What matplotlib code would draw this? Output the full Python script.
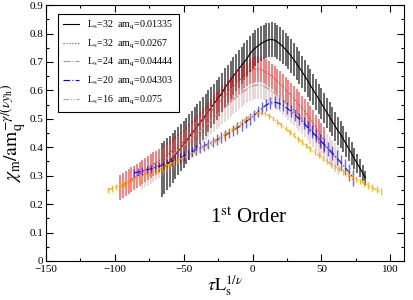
import numpy as np
import matplotlib
matplotlib.use('Agg')
import matplotlib.pyplot as plt
from matplotlib.ticker import MultipleLocator

plt.rcParams['font.family'] = ['Liberation Serif', 'DejaVu Serif']
plt.rcParams['mathtext.fontset'] = 'stix'

# L_s=32 am_q=0.01335
x_black = np.arange(-66, 83, 2)
y_black = [0.320, 0.330, 0.340, 0.351, 0.362, 0.374, 0.386, 0.398, 0.410,
           0.423, 0.436, 0.449, 0.462, 0.475, 0.488, 0.501, 0.514, 0.527,
           0.540, 0.553, 0.566, 0.579, 0.592, 0.610, 0.623, 0.637, 0.650,
           0.663, 0.676, 0.688, 0.700, 0.712, 0.728, 0.740, 0.749, 0.757,
           0.764, 0.770, 0.775, 0.778, 0.779, 0.777, 0.771, 0.763, 0.754,
           0.744, 0.733, 0.721, 0.708, 0.694, 0.680, 0.665, 0.650, 0.634,
           0.618, 0.602, 0.586, 0.570, 0.554, 0.538, 0.522, 0.506, 0.490,
           0.474, 0.458, 0.445, 0.428, 0.411, 0.394, 0.377, 0.360, 0.343,
           0.326, 0.309, 0.292]
e_black = [0.095, 0.093, 0.092, 0.090, 0.088, 0.087, 0.085, 0.083, 0.082,
           0.081, 0.080, 0.079, 0.078, 0.077, 0.076, 0.075, 0.074, 0.073,
           0.072, 0.071, 0.070,
           0.069, 0.069, 0.068, 0.068, 0.067, 0.067, 0.066, 0.066, 0.065,
           0.065, 0.064, 0.064, 0.063,
           0.063, 0.062, 0.062, 0.061, 0.061, 0.060, 0.060, 0.060, 0.060,
           0.060, 0.060, 0.059, 0.059, 0.059, 0.058, 0.058, 0.058, 0.057,
           0.057, 0.056,
           0.056, 0.055, 0.055, 0.054, 0.054, 0.053, 0.053, 0.052, 0.052,
           0.051, 0.050, 0.048, 0.046, 0.044, 0.042, 0.040, 0.037, 0.034,
           0.031, 0.028, 0.025]

# L_s=32 am_q=0.0267
x_red = np.arange(-96, 53, 2)
y_red = [0.258, 0.265, 0.272, 0.279, 0.286, 0.293, 0.299, 0.306, 0.313,
         0.320, 0.327, 0.333, 0.340, 0.346, 0.353, 0.360, 0.367, 0.374,
         0.381, 0.389, 0.396, 0.404, 0.412, 0.420,
         0.430, 0.440, 0.450, 0.461, 0.472, 0.483, 0.494, 0.505, 0.516,
         0.527, 0.538, 0.549, 0.560, 0.571, 0.582, 0.593, 0.604, 0.614,
         0.624, 0.634, 0.643, 0.652, 0.660, 0.667, 0.672,
         0.675, 0.676, 0.674, 0.670, 0.664, 0.657, 0.649, 0.641, 0.632,
         0.623, 0.613, 0.603, 0.593, 0.582, 0.571, 0.560, 0.549, 0.537,
         0.525, 0.513, 0.500, 0.485, 0.470, 0.455, 0.440, 0.425]
e_red = [0.043, 0.043, 0.043, 0.043, 0.043, 0.042, 0.042, 0.042, 0.042,
         0.042, 0.042, 0.042, 0.042, 0.042, 0.042, 0.042, 0.042, 0.042,
         0.042, 0.042, 0.042, 0.042, 0.042, 0.042,
         0.043, 0.043, 0.043, 0.043, 0.043, 0.043, 0.043, 0.043, 0.043,
         0.043, 0.044, 0.044, 0.044, 0.044, 0.044, 0.044, 0.044, 0.044,
         0.044, 0.045, 0.045, 0.045, 0.045, 0.045, 0.045,
         0.045, 0.045, 0.045, 0.045, 0.045, 0.045, 0.045, 0.045, 0.045,
         0.045, 0.045, 0.045, 0.045, 0.045, 0.045, 0.045, 0.045, 0.045,
         0.045, 0.045, 0.045, 0.045, 0.045, 0.045, 0.045, 0.045]

# L_s=24 am_q=0.04444
x_brown = np.arange(-80, 63, 2)
y_brown = [0.300, 0.307, 0.313, 0.320, 0.326, 0.333, 0.340, 0.346, 0.353,
           0.360, 0.367, 0.374, 0.381, 0.389, 0.396, 0.404,
           0.413, 0.422, 0.431, 0.440, 0.449, 0.458, 0.467, 0.476, 0.486,
           0.495, 0.504, 0.513, 0.522, 0.531, 0.540, 0.549, 0.558, 0.567,
           0.575, 0.583, 0.591, 0.598, 0.605, 0.611, 0.615,
           0.618, 0.619, 0.618, 0.615, 0.610, 0.604, 0.597, 0.590, 0.582,
           0.574, 0.565, 0.556, 0.547, 0.537, 0.527, 0.517, 0.507, 0.496,
           0.485, 0.474, 0.463, 0.452, 0.441, 0.430, 0.419, 0.408, 0.397,
           0.386, 0.375, 0.364, 0.353]
e_brown = [0.048, 0.048, 0.048, 0.048, 0.048, 0.048, 0.049, 0.049, 0.049,
           0.049, 0.049, 0.049, 0.049, 0.049, 0.049, 0.050,
           0.050, 0.050, 0.050, 0.050, 0.050, 0.050, 0.050, 0.050, 0.050,
           0.050, 0.050, 0.050, 0.050, 0.050, 0.050, 0.050, 0.050, 0.050,
           0.050, 0.050, 0.050, 0.050, 0.050, 0.050, 0.050,
           0.050, 0.050, 0.050, 0.050, 0.050, 0.050, 0.050, 0.050, 0.050,
           0.050, 0.050, 0.050, 0.050, 0.050, 0.050, 0.050, 0.050, 0.050,
           0.050, 0.050, 0.050, 0.050, 0.050, 0.050, 0.050, 0.050, 0.050,
           0.050, 0.050, 0.050, 0.050]

# L_s=20 am_q=0.04303
x_blue = np.arange(-86, 74, 3)
y_blue = [0.310, 0.313, 0.316, 0.320, 0.324, 0.328, 0.333, 0.338, 0.344,
          0.350, 0.356, 0.363, 0.370, 0.377, 0.384, 0.391, 0.398, 0.405,
          0.412, 0.419, 0.426, 0.434, 0.442, 0.450, 0.459, 0.468, 0.478,
          0.489, 0.500, 0.512, 0.525, 0.538, 0.549, 0.556, 0.558, 0.555,
          0.548, 0.538, 0.526, 0.513, 0.499, 0.485, 0.470, 0.455, 0.440,
          0.425, 0.410, 0.395, 0.380, 0.364, 0.347, 0.330, 0.312, 0.294]
e_blue = [0.015, 0.015, 0.015, 0.015, 0.015, 0.016, 0.016, 0.016, 0.016,
          0.016, 0.017, 0.017, 0.017, 0.017, 0.017, 0.018, 0.018, 0.018,
          0.018, 0.018, 0.019, 0.019, 0.019, 0.019, 0.019, 0.020, 0.020,
          0.020, 0.020, 0.020, 0.020, 0.020, 0.020, 0.020, 0.021, 0.021,
          0.021, 0.021, 0.021, 0.022, 0.022, 0.022, 0.022, 0.023, 0.023,
          0.023, 0.024, 0.024, 0.025, 0.026, 0.027, 0.028, 0.029, 0.030]

# L_s=16 am_q=0.075
x_orange = np.arange(-105, 94, 3)
y_orange = [0.250, 0.255, 0.260, 0.266, 0.272, 0.278, 0.284, 0.290, 0.296,
            0.302, 0.308, 0.314, 0.320, 0.327, 0.334, 0.341, 0.348, 0.355,
            0.362, 0.369, 0.376, 0.383, 0.391, 0.399, 0.407, 0.415, 0.424,
            0.433, 0.442, 0.452, 0.462, 0.472, 0.483, 0.494, 0.505, 0.514,
            0.521, 0.523, 0.519, 0.511, 0.501, 0.490, 0.478, 0.466, 0.454,
            0.442, 0.430, 0.418, 0.406, 0.394, 0.383, 0.372, 0.361, 0.351,
            0.341, 0.332, 0.323, 0.314, 0.305, 0.297, 0.289, 0.281, 0.273,
            0.265, 0.258, 0.251, 0.244]
e_orange = [0.012, 0.012, 0.012, 0.011, 0.011, 0.011, 0.011, 0.010, 0.010,
            0.010, 0.010, 0.010, 0.010, 0.010, 0.010, 0.010, 0.010, 0.010,
            0.010, 0.010, 0.010, 0.010, 0.010, 0.010, 0.010, 0.010, 0.010,
            0.010, 0.010, 0.010, 0.010, 0.010, 0.010, 0.010, 0.010, 0.010,
            0.010, 0.010, 0.010, 0.010, 0.010, 0.010, 0.010, 0.010, 0.010,
            0.010, 0.010, 0.010, 0.010, 0.010, 0.010, 0.010, 0.010, 0.010,
            0.010, 0.010, 0.010, 0.010, 0.011, 0.011, 0.011, 0.011, 0.011,
            0.012, 0.012, 0.012, 0.012]

labels = [r'L$_{\rm s}$=32  am$_{\rm q}$=0.01335',
          r'L$_{\rm s}$=32  am$_{\rm q}$=0.0267',
          r'L$_{\rm s}$=24  am$_{\rm q}$=0.04444',
          r'L$_{\rm s}$=20  am$_{\rm q}$=0.04303',
          r'L$_{\rm s}$=16  am$_{\rm q}$=0.075']

fig = plt.figure(figsize=(4.14, 3.0), dpi=100)
ax = fig.add_axes([0.111, 0.13, 0.865, 0.853])

# x, y, err, line colour, bar colour, line style, bar width
series = [
    (x_black, y_black, e_black, 'black', (0.0, 0.0, 0.0, 0.6), '-', 1.4),
    (x_red, y_red, e_red, 'red', (1.0, 0.0, 0.0, 0.5), ':', 1.4),
    (x_brown, y_brown, e_brown, '#bc8f8f', (0.74, 0.56, 0.56, 0.35), '-.', 1.4),
    (x_blue, y_blue, e_blue, 'blue', (0.0, 0.0, 1.0, 0.6), (0, (6, 2, 1, 2)), 1.0),
    (x_orange, y_orange, e_orange, 'orange', (1.0, 0.65, 0.0, 0.8),
     (0, (5, 1.5, 1, 1.5, 1, 1.5)), 1.0),
]

for i, (x, y, e, c, ec, ls, ew) in enumerate(series):
    ax.errorbar(x, y, yerr=e, fmt='none', ecolor=ec, elinewidth=ew,
                capsize=0, zorder=2 + i)
    ax.plot(x, y, color=c, lw=0.8, ls=ls, label=labels[i], zorder=2.5 + i)

ax.set_xlim(-150, 110)
ax.set_ylim(0, 0.9)
ax.xaxis.set_major_locator(MultipleLocator(50))
ax.xaxis.set_minor_locator(MultipleLocator(25))
ax.yaxis.set_minor_locator(MultipleLocator(0.05))
ax.set_yticks(np.arange(0, 0.91, 0.1))
ax.set_yticklabels(['0', '0.1', '0.2', '0.3', '0.4', '0.5', '0.6', '0.7', '0.8', '0.9'])
ax.tick_params(which='both', direction='in', top=True, right=True, labelsize=8,
               width=0.8)
ax.tick_params(axis='y', pad=2)
ax.tick_params(axis='x', pad=3)
ax.tick_params(which='major', length=5)
ax.tick_params(which='minor', length=2.5)
for s in ax.spines.values():
    s.set_linewidth(0.8)

ax.set_xlabel(r'$\tau{\rm L}_{\rm s}^{1/\nu}$', fontsize=13, labelpad=-1)
ax.set_ylabel(r'$\chi_{\rm m}/{\rm am}_{\rm q}^{-\gamma/(\nu y_{\rm h})}$',
              fontsize=14, labelpad=0)

ax.text(-3, 0.135, r'1$^{\rm st}$ Order', fontsize=15, ha='center', va='baseline')

leg = ax.legend(loc='upper left', bbox_to_anchor=(0.035, 0.965), fontsize=7.2,
                frameon=True, fancybox=False, edgecolor='black', framealpha=1,
                handlelength=1.6, handletextpad=0.8, labelspacing=0.55,
                borderpad=0.5, borderaxespad=0)
leg.get_frame().set_linewidth(0.8)

fig.savefig('out.png', dpi=100)
